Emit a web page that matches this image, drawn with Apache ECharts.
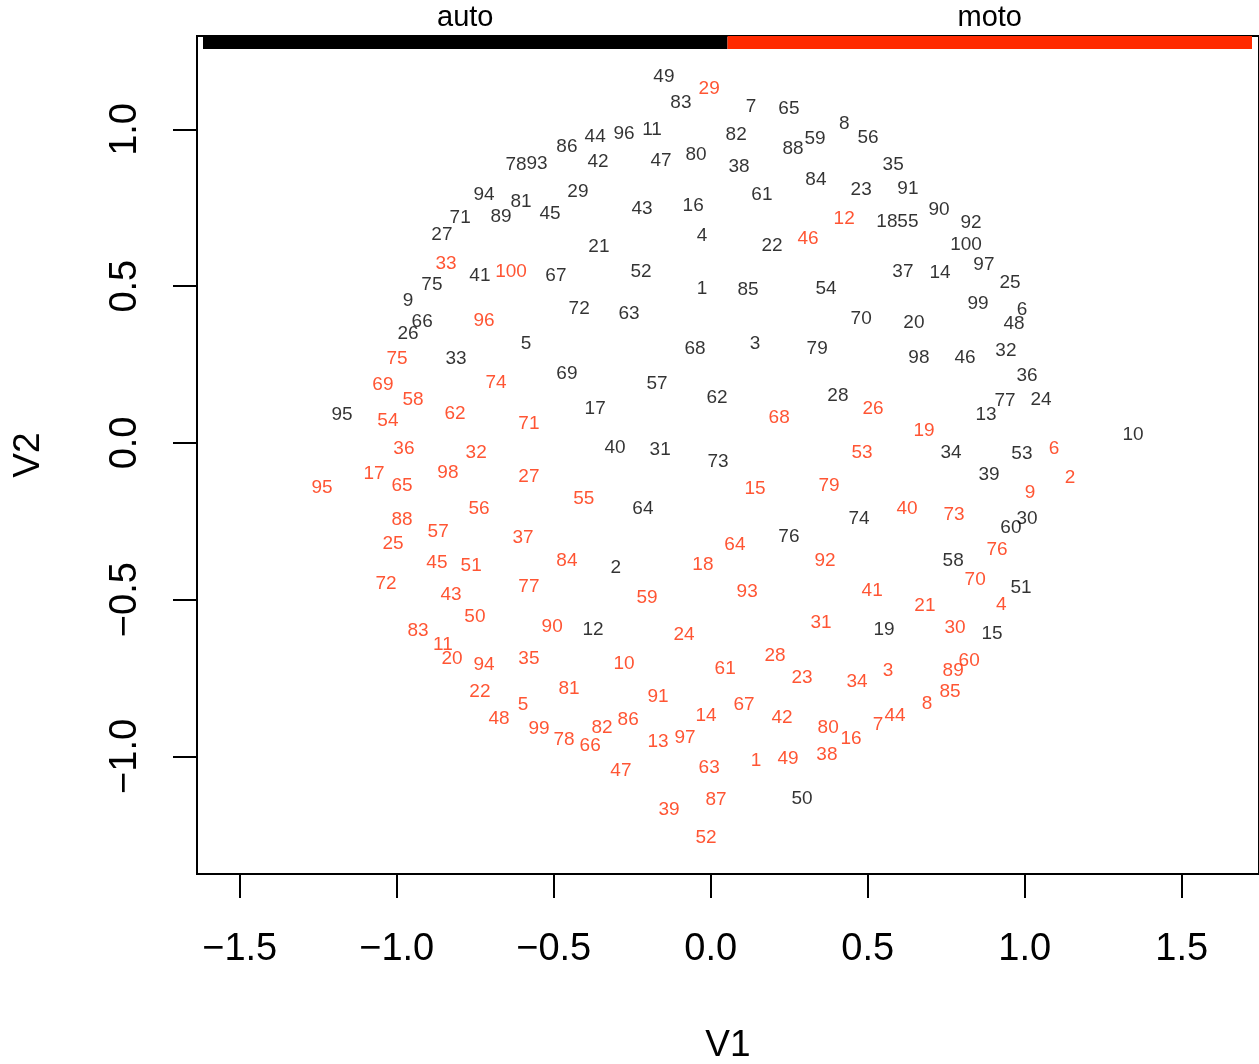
<!DOCTYPE html>
<html><head><meta charset="utf-8">
<script src="https://cdn.jsdelivr.net/npm/echarts@6/dist/echarts.min.js"></script>
<style>html,body{margin:0;padding:0;background:#fff}#c{width:1259px;height:1064px}</style>
</head><body><div id="c"></div>
<script>
// Groups shown in the top strip
const groups = ['auto', 'moto'];
const groupColors = ['#000000', '#ff2a00'];

// auto (black) labels: [V1, V2, id]
const autoPoints = [
[-0.149,1.174,49],[-0.095,1.091,83],[0.128,1.078,7],[0.249,1.072,65],[0.425,1.024,8],[0.501,0.979,56],
[-0.458,0.951,86],[-0.368,0.982,44],[-0.276,0.992,96],[-0.187,1.005,11],[0.081,0.989,82],[0.262,0.944,88],
[0.332,0.976,59],[-0.620,0.893,78],[-0.553,0.896,93],[-0.359,0.903,42],[-0.158,0.906,47],[-0.047,0.925,80],
[0.090,0.887,38],[0.581,0.893,35],[0.335,0.845,84],[0.479,0.813,23],[0.628,0.817,91],[-0.722,0.797,94],
[-0.604,0.775,81],[-0.423,0.807,29],[-0.668,0.727,89],[-0.798,0.724,71],[-0.512,0.737,45],[-0.219,0.753,43],
[-0.056,0.762,16],[0.163,0.797,61],[-0.856,0.670,27],[0.727,0.750,90],[0.561,0.711,18],[0.628,0.711,55],
[0.829,0.708,92],[-0.356,0.632,21],[-0.028,0.667,4],[0.195,0.635,22],[0.813,0.638,100],[0.612,0.552,37],
[0.730,0.549,14],[0.870,0.574,97],[0.953,0.517,25],[-0.735,0.539,41],[-0.493,0.539,67],[-0.222,0.552,52],
[-0.028,0.498,1],[0.119,0.494,85],[0.367,0.498,54],[-0.888,0.510,75],[-0.964,0.459,9],[0.851,0.450,99],
[0.991,0.431,6],[0.966,0.386,48],[-0.419,0.434,72],[-0.260,0.418,63],[0.479,0.402,70],[0.647,0.389,20],
[-0.919,0.392,66],[-0.964,0.354,26],[-0.588,0.322,5],[-0.050,0.306,68],[0.141,0.322,3],[0.339,0.306,79],
[0.663,0.278,98],[0.810,0.278,46],[0.940,0.300,32],[-0.811,0.274,33],[-0.458,0.226,69],[-0.171,0.195,57],
[0.020,0.150,62],[0.405,0.156,28],[1.007,0.220,36],[0.937,0.140,77],[1.052,0.144,24],[0.877,0.096,13],
[-1.174,0.096,95],[-0.368,0.115,17],[-0.305,-0.010,40],[-0.161,-0.016,31],[0.023,-0.054,73],[0.765,-0.026,34],
[0.991,-0.029,53],[1.345,0.032,10],[0.886,-0.096,39],[-0.216,-0.204,64],[0.472,-0.236,74],[0.956,-0.265,60],
[1.007,-0.236,30],[0.249,-0.293,76],[-0.302,-0.392,2],[0.772,-0.370,58],[0.988,-0.456,51],[-0.375,-0.590,12],
[0.552,-0.590,19],[0.896,-0.603,15],[0.291,-1.129,50]
];

// moto (red) labels: [V1, V2, id]
const motoPoints = [
[-0.005,1.136,29],[0.425,0.721,12],[0.310,0.657,46],[-0.843,0.577,33],[-0.636,0.552,100],[-0.722,0.396,96],
[-0.999,0.274,75],[-1.044,0.191,69],[-0.948,0.144,58],[-0.684,0.198,74],[-0.814,0.099,62],[-1.028,0.077,54],
[-0.579,0.067,71],[0.218,0.086,68],[0.517,0.115,26],[0.679,0.045,19],[-0.977,-0.013,36],[-0.747,-0.026,32],
[0.482,-0.026,53],[1.093,-0.013,6],[-1.072,-0.093,17],[-0.983,-0.131,65],[-0.837,-0.089,98],[-0.579,-0.102,27],
[-1.238,-0.137,95],[-0.404,-0.172,55],[0.141,-0.140,15],[0.377,-0.131,79],[1.144,-0.105,2],[1.017,-0.153,9],
[-0.738,-0.204,56],[-0.983,-0.239,88],[-0.868,-0.278,57],[-0.598,-0.297,37],[0.625,-0.204,40],[0.775,-0.223,73],
[-1.012,-0.316,25],[0.077,-0.319,64],[0.912,-0.335,76],[-0.872,-0.376,45],[-0.763,-0.386,51],[-0.458,-0.370,84],
[-0.025,-0.383,18],[0.364,-0.370,92],[-1.034,-0.443,72],[-0.579,-0.453,77],[0.842,-0.431,70],[-0.827,-0.478,43],
[-0.203,-0.488,59],[0.116,-0.469,93],[0.514,-0.466,41],[0.925,-0.510,4],[0.682,-0.514,21],[-0.751,-0.549,50],
[-0.505,-0.581,90],[0.351,-0.568,31],[0.778,-0.584,30],[-0.932,-0.593,83],[-0.085,-0.606,24],[-0.853,-0.638,11],
[-0.824,-0.683,20],[-0.722,-0.702,94],[-0.579,-0.683,35],[-0.276,-0.699,10],[0.046,-0.715,61],[0.205,-0.673,28],
[0.291,-0.743,23],[0.565,-0.721,3],[0.466,-0.756,34],[0.772,-0.721,89],[0.823,-0.689,60],[0.762,-0.788,85],
[-0.735,-0.788,22],[-0.451,-0.778,81],[-0.168,-0.804,91],[-0.598,-0.829,5],[-0.674,-0.874,48],[-0.015,-0.864,14],
[0.106,-0.829,67],[0.227,-0.871,42],[0.689,-0.826,8],[0.533,-0.893,7],[0.587,-0.864,44],[0.374,-0.903,80],
[0.447,-0.938,16],[-0.547,-0.906,99],[-0.467,-0.941,78],[-0.384,-0.960,66],[-0.346,-0.903,82],[-0.263,-0.877,86],
[-0.168,-0.947,13],[-0.082,-0.935,97],[0.144,-1.008,1],[0.246,-1.002,49],[0.370,-0.989,38],[-0.005,-1.030,63],
[-0.286,-1.040,47],[0.017,-1.132,87],[-0.133,-1.164,39],[-0.015,-1.254,52]
];

// axis ticks
const xTicks = [-1.5, -1.0, -0.5, 0.0, 0.5, 1.0, 1.5];
const yTicks = [-1.0, -0.5, 0.0, 0.5, 1.0];
const xName = 'V1', yName = 'V2';

const FONT = '"Liberation Sans", Arial, Helvetica, sans-serif';
const fmt = v => (v < 0 ? '\u2212' : '') + Math.abs(v).toFixed(1);

function textSeries(name, pts, color) {
  return {
    name, type: 'scatter', symbolSize: 2, itemStyle: {color: 'rgba(0,0,0,0)'},
    data: pts.map(p => ({value: [p[0], p[1]], name: String(p[2])})),
    label: {show: true, position: [1, 3], align: 'center', verticalAlign: 'middle',
      formatter: '{b}', color: color, fontFamily: FONT, fontSize: 19},
    labelLayout: {hideOverlap: false},
    emphasis: {disabled: true}, silent: true
  };
}

const chart = echarts.init(document.getElementById('c'));
const G = {left: 197, top: 36, right: 0, bottom: 190};
const stripW = (1252 - 203) / groups.length;
const graphics = [];
groups.forEach((g, i) => {
  graphics.push({type: 'rect', left: 203 + i * stripW, top: 36, shape: {width: stripW, height: 13},
    style: {fill: groupColors[i]}, z: 10});
  graphics.push({type: 'text', x: 203 + i * stripW + stripW / 2, y: 18,
    style: {text: g, font: '29px ' + FONT, fill: '#000', textAlign: 'center', textVerticalAlign: 'middle'}, z: 10});
});

chart.setOption({
  animation: false,
  backgroundColor: '#fff',
  grid: Object.assign({show: true, borderColor: '#000', borderWidth: 2, containLabel: false, outerBoundsMode: 'none'}, G),
  graphic: graphics,
  xAxis: {
    type: 'value', min: -1.636, max: 1.746,
    name: xName, nameLocation: 'middle', nameGap: 153,
    nameTextStyle: {fontFamily: FONT, fontSize: 37, color: '#000'},
    splitLine: {show: false}, axisLine: {show: false, onZero: false},
    axisTick: {show: true, inside: false, length: 24, customValues: xTicks, lineStyle: {color: '#000', width: 2}},
    axisLabel: {customValues: xTicks, formatter: fmt, margin: 57, fontFamily: FONT, fontSize: 38, color: '#000'}
  },
  yAxis: {
    type: 'value', min: -1.375, max: 1.298,
    name: yName, nameLocation: 'middle', nameGap: 150, nameRotate: 90,
    nameTextStyle: {fontFamily: FONT, fontSize: 37, color: '#000'},
    splitLine: {show: false}, axisLine: {show: false, onZero: false},
    axisTick: {show: true, inside: false, length: 24, customValues: yTicks, lineStyle: {color: '#000', width: 2}},
    axisLabel: {customValues: yTicks, formatter: fmt, rotate: 90, margin: 52, fontFamily: FONT, fontSize: 38, color: '#000'}
  },
  series: [textSeries(groups[0], autoPoints, groupColors[0]), textSeries(groups[1], motoPoints, groupColors[1])]
});
</script></body></html>
